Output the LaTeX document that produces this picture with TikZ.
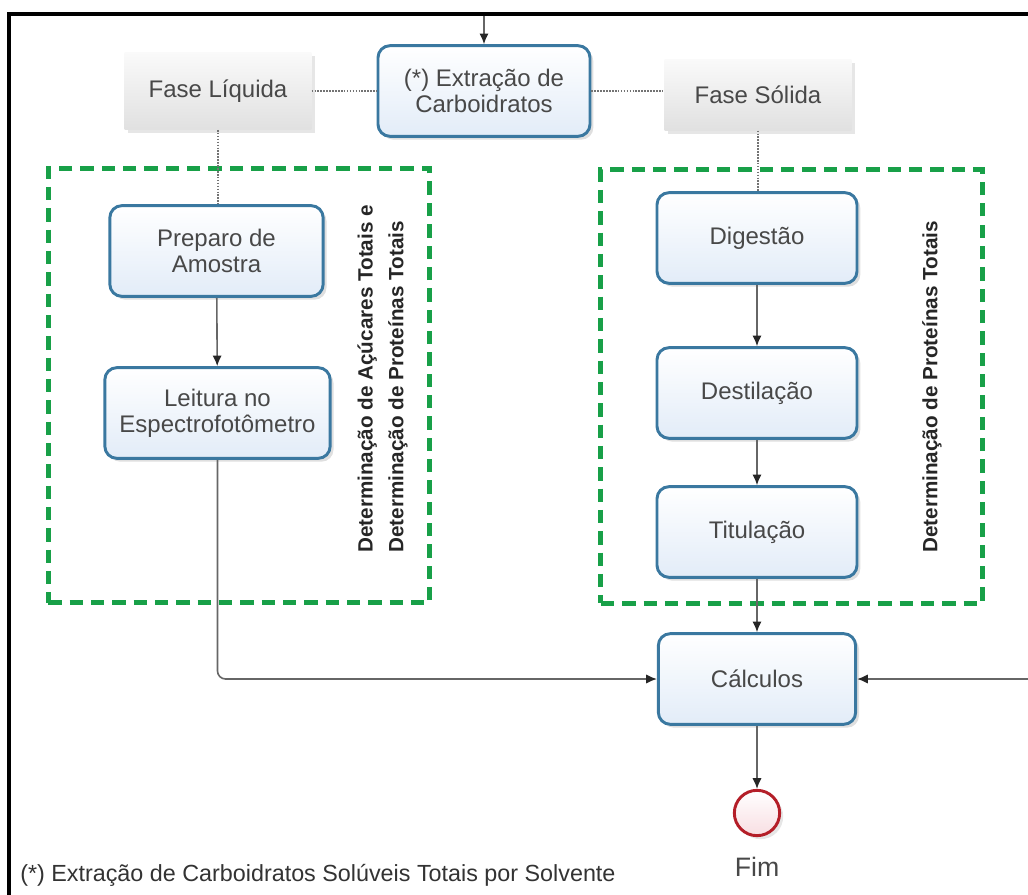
\documentclass[tikz,border=0pt]{standalone}
\usepackage{fontspec}
\setmainfont{Liberation Sans}
\usetikzlibrary{arrows.meta, positioning, shadows}
\definecolor{boxline}{RGB}{58,120,160}
\definecolor{boxfill}{RGB}{226,236,248}
\definecolor{grpgreen}{RGB}{24,160,72}
\definecolor{endred}{RGB}{180,30,40}
\definecolor{endfill}{RGB}{248,222,226}
\definecolor{txtgray}{RGB}{72,72,72}

\begin{document}
\begin{tikzpicture}[x=0.75pt, y=-0.75pt,
    task/.style={draw=boxline, line width=2.2pt, rounded corners=9pt, align=center,
                 font=\fontsize{18}{19.5}\selectfont, text=txtgray, inner sep=2pt,
                 top color=white, bottom color=boxfill, minimum height=68pt,
                 drop shadow={opacity=0.25, shadow xshift=2.5pt, shadow yshift=-2.5pt}},
    phase/.style={align=center, font=\fontsize{18}{20}\selectfont, text=txtgray,
                  top color=gray!4, bottom color=gray!24, minimum width=140pt,
                  drop shadow={opacity=0.2, shadow xshift=2.5pt, shadow yshift=-2.5pt}},
    grp/.style={draw=grpgreen, line width=3.6pt, dash pattern=on 10pt off 6pt},
    vlabel/.style={rotate=90, anchor=west, align=left, text=black!85, inner sep=0pt,
                   font=\bfseries\fontsize{15.5}{23}\selectfont},
    flow/.style={-{Latex[length=8pt,width=7pt,color=black!85]}, line width=1.2pt, draw=black!60},
    link/.style={line width=1.6pt, draw=black!55, dash pattern=on 1.2pt off 1pt},
]
\useasboundingbox (0,0) rectangle (1028,895);
\draw[line width=3pt] (9,895) -- (9,14.5) -- (1028,14.5);

\node[grp, minimum width=286pt, minimum height=326pt] (gliq) at (239,385.5) {};
\node[grp, minimum width=286pt, minimum height=325pt] (gsol) at (791.5,386.5) {};

\node[phase, minimum height=58pt] (fliq) at (218,91) {Fase Líquida};
\node[task, minimum width=159pt] (extr) at (484,91) {(*) Extração de\\Carboidratos};
\node[phase, minimum height=53pt] (fsol) at (758,95) {Fase Sólida};

\node[task, minimum width=160pt] (prep) at (216.5,251) {Preparo de\\Amostra};
\node[task, minimum width=169pt] (leit) at (217.5,413) {Leitura no\\Espectrofotômetro};
\node[task, minimum width=150pt] (dig)  at (757,238) {Digestão};
\node[task, minimum width=150pt] (dest) at (757,393) {Destilação};
\node[task, minimum width=150pt] (tit)  at (757,532) {Titulação};
\node[task, minimum width=148pt] (calc) at (757,679) {Cálculos};
\node[circle, draw=endred, line width=2.2pt, minimum size=34pt, top color=white,
      bottom color=endfill, drop shadow={opacity=0.2}] (fim) at (757,813) {};
\node[font=\fontsize{20}{22}\selectfont, text=txtgray] (fimlbl) at (757,867) {Fim};

\node[vlabel] (lblliq) at (382.5,553) {Determinação de Açúcares Totais e\\Determinação de Proteínas Totais};
\node[vlabel] (lblsol) at (932,553) {Determinação de Proteínas Totais};

\node[anchor=west, inner sep=0pt, font=\fontsize{17.5}{20}\selectfont, text=black!80] (nota)
   at (20,875) {(*) Extração de Carboidratos Solúveis Totais por Solvente};

\coordinate (topin) at (484,16);
\coordinate (rin) at (1028,679);
\draw[flow] (topin) -- (extr);
\draw[link] (fliq) -- (extr);
\draw[link] (extr.east) -- (extr.east -| fsol.west);
\draw[link] (fliq.south) -- (fliq.south |- prep.north);
\draw[link] (fsol.south) -- (fsol.south |- dig.north);
\draw[flow] (prep) -- (leit);
\draw[flow] (dig) -- (dest);
\draw[flow] (dest) -- (tit);
\draw[flow] (tit) -- (calc);
\draw[flow, rounded corners=6pt] (leit) |- (calc);
\draw[flow] (rin) -- (calc);
\draw[flow] (calc) -- (fim);
\end{tikzpicture}
\end{document}
